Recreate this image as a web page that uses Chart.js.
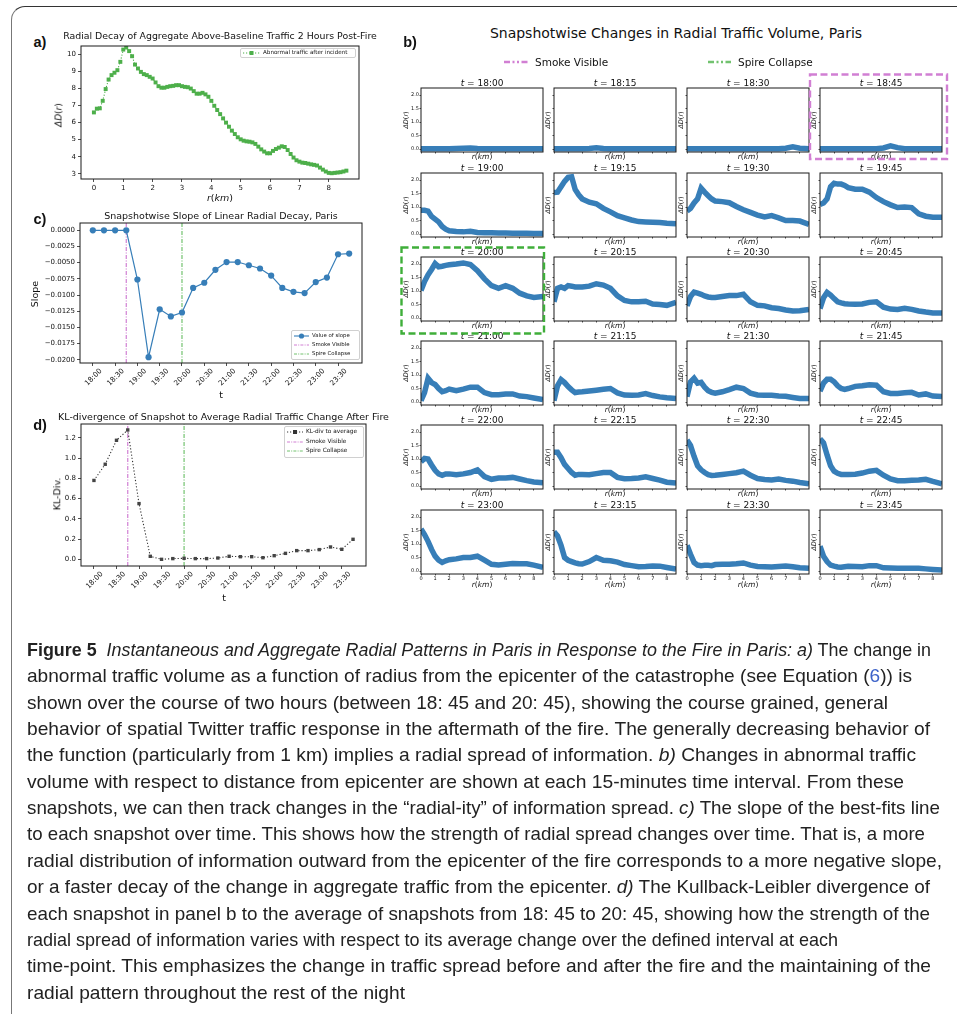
<!DOCTYPE html>
<html lang="en">
<head>
<meta charset="UTF-8">
<meta name="viewport" content="width=device-width, initial-scale=1.0">
<title>Figure 5 - Radial Patterns in Paris</title>
<script src="https://cdn.jsdelivr.net/npm/chart.js"></script>
<style>
  html, body { margin: 0; padding: 0; background: #fff; }
  #fig { position: relative; width: 957px; height: 1014px; overflow: hidden; font-family: "DejaVu Sans", sans-serif; color: #111; }
  .frame { position: absolute; left: 11px; top: 6px; width: 1000px; height: 1100px; border-left: 1.4px solid #777; border-top: 1.4px solid #333; border-top-left-radius: 14px; }
  .cbox { position: absolute; }
  .cbox canvas { display: block; }
  .txt { position: absolute; white-space: nowrap; line-height: 1; transform: translate(-50%, -50%); }
  .txt.left { transform: translate(0, -50%); }
  .txt.rot { transform: translate(-50%, -50%) rotate(-90deg); }
  .leg { position: absolute; box-sizing: border-box; background: rgba(255,255,255,0.85); border: 0.8px solid #d0d0d0; border-radius: 2px; display: flex; flex-direction: column; justify-content: space-evenly; padding: 0 2px; }
  .leg .row { display: flex; align-items: center; white-space: nowrap; line-height: 1; }
  .leg svg { flex: none; margin-right: 3px; }
  .cap { position: absolute; left: 27px; white-space: nowrap; font-family: "Liberation Sans Narrow", "Liberation Sans", sans-serif; font-size: 19px; line-height: 26px; color: #222; transform-origin: 0 50%; }
  .cap .lnk { color: #3d63c9; }
  #over { position: absolute; left: 0; top: 0; pointer-events: none; }
</style>
</head>
<body>
<div id="fig"><div class="frame"></div></div>
<script>
// 15-minute snapshot times
const TIMES = ['18:00', '18:15', '18:30', '18:45', '19:00', '19:15', '19:30', '19:45',
               '20:00', '20:15', '20:30', '20:45', '21:00', '21:15', '21:30', '21:45',
               '22:00', '22:15', '22:30', '22:45', '23:00', '23:15', '23:30', '23:45'];
const SMOKE_AT = '18:45';
const SPIRE_AT = '20:00';

// a) aggregate above-baseline traffic vs radius
const A_R = [0, 0.1, 0.2, 0.3, 0.4, 0.5, 0.6, 0.7, 0.8, 0.9,
             1, 1.1, 1.2, 1.3, 1.4, 1.5, 1.6, 1.7, 1.8, 1.9,
             2, 2.1, 2.2, 2.3, 2.4, 2.5, 2.6, 2.7, 2.8, 2.9,
             3, 3.1, 3.2, 3.3, 3.4, 3.5, 3.6, 3.7, 3.8, 3.9,
             4, 4.1, 4.2, 4.3, 4.4, 4.5, 4.6, 4.7, 4.8, 4.9,
             5, 5.1, 5.2, 5.3, 5.4, 5.5, 5.6, 5.7, 5.8, 5.9,
             6, 6.1, 6.2, 6.3, 6.4, 6.5, 6.6, 6.7, 6.8, 6.9,
             7, 7.1, 7.2, 7.3, 7.4, 7.5, 7.6, 7.7, 7.8, 7.9,
             8, 8.1, 8.2, 8.3, 8.4, 8.5, 8.6];
const A_DELTA = [6.6, 6.82, 6.84, 7.28, 7.97, 8.53, 8.79, 8.93, 9.08, 9.57,
                 10.29, 10.41, 10.2, 9.9, 9.41, 9.18, 8.98, 8.85, 8.79, 8.69,
                 8.59, 8.36, 8.14, 8.05, 8.05, 8.1, 8.14, 8.16, 8.2, 8.2,
                 8.14, 8.1, 8.08, 8.0, 7.85, 7.7, 7.7, 7.75, 7.66, 7.52,
                 7.28, 6.99, 6.74, 6.5, 6.25, 6.0, 5.76, 5.53, 5.33, 5.14,
                 5.02, 4.94, 4.9, 4.88, 4.84, 4.75, 4.59, 4.43, 4.3, 4.2,
                 4.2, 4.34, 4.45, 4.53, 4.61, 4.57, 4.39, 4.16, 3.95, 3.79,
                 3.71, 3.65, 3.63, 3.59, 3.55, 3.52, 3.48, 3.36, 3.24, 3.13,
                 3.05, 3.03, 3.05, 3.07, 3.09, 3.13, 3.18];

// c) slope of the linear fit per snapshot
const SLOPE = [0, 0, 0, 0, -0.0076, -0.0196, -0.0122, -0.0133, -0.0127, -0.0089, -0.0081, -0.0061,
               -0.0049, -0.0049, -0.0054, -0.0059, -0.0070, -0.0089, -0.0095, -0.0097, -0.0080, -0.0073,
               -0.0037, -0.0036];

// d) KL divergence of each snapshot to the average
const KL_DIV = [0.78, 0.94, 1.177, 1.279, 0.551, 0.03, 0.0, 0.007, 0.01, 0.007, 0.007, 0.013,
                0.03, 0.026, 0.026, 0.016, 0.036, 0.059, 0.086, 0.086, 0.096, 0.122, 0.099, 0.198];

// b) radial profiles, one per snapshot
const R_KM = [0, 0.25, 0.5, 0.75, 1, 1.25, 1.5, 1.75, 2, 2.5, 3, 3.5, 4, 4.5, 5, 5.5, 6, 6.5, 7, 7.5, 8, 8.65];
const SNAP_1800 = [0.01, 0.01, 0.01, 0.01, 0.01, 0.01, 0.01, 0.01, 0.01, 0.02, 0.03, 0.04, 0.02, 0.01, 0.01, 0.01, 0.01, 0.01, 0.01, 0.01, 0.01, 0.01];
const SNAP_1815 = [0.01, 0.01, 0.01, 0.01, 0.01, 0.01, 0.01, 0.01, 0.01, 0.02, 0.05, 0.02, 0.01, 0.01, 0.01, 0.01, 0.01, 0.01, 0.01, 0.01, 0.01, 0.01];
const SNAP_1830 = [0.01, 0.01, 0.01, 0.01, 0.01, 0.01, 0.01, 0.01, 0.01, 0.01, 0.01, 0.01, 0.01, 0.01, 0.01, 0.01, 0.01, 0.01, 0.03, 0.08, 0.03, 0.01];
const SNAP_1845 = [0.01, 0.01, 0.01, 0.01, 0.01, 0.01, 0.01, 0.01, 0.01, 0.01, 0.01, 0.01, 0.01, 0.04, 0.12, 0.05, 0.01, 0.01, 0.01, 0.01, 0.01, 0.01];
const SNAP_1900 = [0.88, 0.88, 0.85, 0.65, 0.55, 0.45, 0.28, 0.18, 0.12, 0.09, 0.08, 0.1, 0.06, 0.05, 0.05, 0.04, 0.04, 0.03, 0.03, 0.03, 0.02, 0.02];
const SNAP_1915 = [1.54, 1.55, 1.75, 1.95, 2.1, 2.12, 1.65, 1.45, 1.3, 1.18, 1.12, 0.95, 0.82, 0.68, 0.6, 0.52, 0.46, 0.45, 0.44, 0.43, 0.4, 0.38];
const SNAP_1930 = [0.85, 0.95, 1.15, 1.3, 1.7, 1.55, 1.42, 1.3, 1.22, 1.2, 1.16, 1.02, 0.9, 0.8, 0.7, 0.63, 0.68, 0.6, 0.5, 0.5, 0.48, 0.36];
const SNAP_1945 = [1.1, 1.15, 1.3, 1.75, 1.88, 1.85, 1.85, 1.8, 1.72, 1.66, 1.66, 1.55, 1.35, 1.2, 1.08, 0.98, 1.0, 0.98, 0.75, 0.66, 0.62, 0.62];
const SNAP_2000 = [1.02, 1.35, 1.6, 1.8, 2.02, 1.9, 1.92, 1.95, 1.97, 2.0, 2.04, 1.98, 1.75, 1.45, 1.2, 1.1, 1.2, 1.1, 0.92, 0.82, 0.76, 0.8];
const SNAP_2015 = [0.6, 1.1, 1.15, 1.1, 1.2, 1.18, 1.15, 1.15, 1.15, 1.18, 1.27, 1.22, 1.1, 0.82, 0.65, 0.6, 0.6, 0.62, 0.52, 0.5, 0.47, 0.58];
const SNAP_2030 = [0.45, 0.8, 0.96, 0.92, 0.88, 0.82, 0.78, 0.76, 0.76, 0.8, 0.83, 0.83, 0.88, 0.6, 0.47, 0.45, 0.38, 0.35, 0.3, 0.26, 0.27, 0.32];
const SNAP_2045 = [0.35, 0.75, 0.95, 0.85, 0.72, 0.6, 0.56, 0.53, 0.52, 0.51, 0.52, 0.58, 0.6, 0.4, 0.33, 0.32, 0.36, 0.32, 0.26, 0.22, 0.19, 0.19];
const SNAP_2100 = [0.05, 0.35, 0.88, 0.72, 0.65, 0.5, 0.38, 0.42, 0.48, 0.42, 0.48, 0.55, 0.55, 0.35, 0.27, 0.27, 0.3, 0.3, 0.22, 0.2, 0.15, 0.09];
const SNAP_2115 = [0.05, 0.6, 0.83, 0.72, 0.57, 0.45, 0.35, 0.37, 0.38, 0.41, 0.44, 0.47, 0.5, 0.34, 0.26, 0.25, 0.26, 0.31, 0.24, 0.19, 0.16, 0.13];
const SNAP_2130 = [0.2, 0.75, 0.88, 0.7, 0.73, 0.55, 0.42, 0.36, 0.33, 0.38, 0.46, 0.55, 0.5, 0.33, 0.26, 0.25, 0.25, 0.22, 0.21, 0.17, 0.13, 0.13];
const SNAP_2145 = [0.4, 0.7, 0.84, 0.84, 0.75, 0.6, 0.5, 0.47, 0.5, 0.58, 0.6, 0.64, 0.62, 0.38, 0.32, 0.32, 0.34, 0.36, 0.26, 0.3, 0.22, 0.2];
const SNAP_2200 = [0.9, 1.02, 1.0, 0.78, 0.58, 0.45, 0.4, 0.45, 0.45, 0.42, 0.45, 0.5, 0.6, 0.35, 0.25, 0.3, 0.3, 0.32, 0.26, 0.2, 0.15, 0.12];
const SNAP_2215 = [1.25, 1.25, 1.05, 0.8, 0.65, 0.5, 0.4, 0.43, 0.43, 0.42, 0.46, 0.5, 0.5, 0.32, 0.27, 0.28, 0.3, 0.34, 0.28, 0.22, 0.14, 0.11];
const SNAP_2230 = [1.7, 1.5, 1.1, 0.75, 0.6, 0.5, 0.42, 0.39, 0.4, 0.43, 0.46, 0.49, 0.55, 0.4, 0.28, 0.24, 0.22, 0.26, 0.21, 0.18, 0.13, 0.08];
const SNAP_2245 = [1.75, 1.6, 1.15, 0.75, 0.55, 0.47, 0.43, 0.43, 0.43, 0.44, 0.48, 0.55, 0.58, 0.4, 0.26, 0.2, 0.2, 0.21, 0.22, 0.25, 0.17, 0.08];
const SNAP_2300 = [1.56, 1.35, 1.1, 0.8, 0.55, 0.4, 0.32, 0.38, 0.42, 0.45, 0.5, 0.5, 0.55, 0.4, 0.25, 0.22, 0.25, 0.28, 0.27, 0.27, 0.22, 0.14];
const SNAP_2315 = [1.45, 1.3, 0.95, 0.5, 0.4, 0.35, 0.3, 0.27, 0.26, 0.35, 0.5, 0.4, 0.38, 0.33, 0.24, 0.2, 0.16, 0.17, 0.19, 0.18, 0.13, 0.07];
const SNAP_2330 = [0.95, 0.62, 0.32, 0.22, 0.2, 0.21, 0.21, 0.2, 0.24, 0.25, 0.25, 0.27, 0.3, 0.22, 0.17, 0.16, 0.15, 0.17, 0.19, 0.16, 0.12, 0.1];
const SNAP_2345 = [0.92, 0.55, 0.35, 0.22, 0.18, 0.15, 0.14, 0.16, 0.18, 0.17, 0.16, 0.2, 0.2, 0.12, 0.11, 0.1, 0.1, 0.1, 0.1, 0.08, 0.06, 0.04];
const SNAPSHOTS = [SNAP_1800, SNAP_1815, SNAP_1830, SNAP_1845, SNAP_1900, SNAP_1915, SNAP_1930, SNAP_1945,
                   SNAP_2000, SNAP_2015, SNAP_2030, SNAP_2045, SNAP_2100, SNAP_2115, SNAP_2130, SNAP_2145,
                   SNAP_2200, SNAP_2215, SNAP_2230, SNAP_2245, SNAP_2300, SNAP_2315, SNAP_2330, SNAP_2345];

const BLUE = '#377eb8', GREEN = '#4daf4a', SMOKE = '#d17fd3', SPIRE = '#72c26f', KL = '#333333';
const fig = document.getElementById('fig');

function put(html, x, y, css, cls) {
  const d = document.createElement('div');
  d.className = 'txt' + (cls ? ' ' + cls : '');
  d.innerHTML = html;
  d.style.cssText = `left:${x}px;top:${y}px;` + (css || '');
  fig.appendChild(d);
  return d;
}

// box around the plot area, like matplotlib spines
Chart.register({
  id: 'frame',
  defaults: { color: '#1a1a1a', width: 1 },
  afterDatasetsDraw(chart, args, o) {
    const a = chart.chartArea, ctx = chart.ctx;
    ctx.save();
    ctx.strokeStyle = o.color;
    ctx.lineWidth = o.width;
    ctx.strokeRect(a.left, a.top, a.right - a.left, a.bottom - a.top);
    ctx.restore();
  }
});

function axis(o) {
  return {
    type: 'linear', position: o.pos, min: o.min, max: o.max, bounds: 'data',
    afterBuildTicks: s => { s.ticks = o.ticks.map(v => ({ value: v })); },
    grid: { drawOnChartArea: false, drawTicks: true, tickLength: o.tick, tickColor: '#222', tickWidth: 0.8 },
    border: { display: false },
    ticks: {
      display: o.show !== false, autoSkip: false, includeBounds: false,
      maxRotation: o.rot || 0, minRotation: o.rot || 0,
      labelOffset: o.shift || 0, padding: o.gap === undefined ? 2 : o.gap,
      color: '#111', font: { family: 'DejaVu Sans', size: o.font },
      callback: o.fmt || (v => v)
    }
  };
}

// plot area sits exactly at rect = [left, top, width, height]; pad = [l, t, r, b] room for axes
function chartAt(rect, pad, datasets, scales) {
  const [l, t, w, h] = rect;
  const box = document.createElement('div');
  box.className = 'cbox';
  box.style.left = (l - pad[0]) + 'px';
  box.style.top = (t - pad[1]) + 'px';
  const cv = document.createElement('canvas');
  cv.width = w + pad[0] + pad[2];
  cv.height = h + pad[1] + pad[3];
  box.appendChild(cv);
  fig.appendChild(box);
  scales.x.afterFit = s => { s.height = pad[3]; };
  scales.y.afterFit = s => { s.width = pad[0]; };
  return new Chart(cv, {
    type: 'line',
    data: { datasets },
    options: {
      responsive: false, animation: false, events: [],
      layout: { padding: { left: 0, top: pad[1], right: pad[2], bottom: 0 } },
      plugins: { legend: { display: false }, tooltip: { enabled: false } },
      scales
    }
  });
}

function vline(at, color, yMin, yMax) {
  const i = TIMES.indexOf(at);
  return { data: [{ x: i, y: yMin }, { x: i, y: yMax }], borderColor: color, borderWidth: 1.2,
           borderDash: [4, 1.5, 1, 1.5], pointRadius: 0 };
}

function sample(it, w) {
  const dash = it.dash ? ` stroke-dasharray="${it.dash}"` : '';
  let mark = '';
  if (it.marker === 'rect') mark = `<rect x="${w / 2 - 2}" y="2" width="4" height="4" fill="${it.color}"/>`;
  if (it.marker === 'circle') mark = `<circle cx="${w / 2}" cy="4" r="2.6" fill="${it.color}"/>`;
  return `<svg width="${w}" height="8"><line x1="0" y1="4" x2="${w}" y2="4" stroke="${it.color}" stroke-width="${it.lw || 1}"${dash}/>${mark}</svg>`;
}

function legend(x, y, w, h, size, sw, items) {
  const box = document.createElement('div');
  box.className = 'leg';
  box.style.cssText = `left:${x}px;top:${y}px;width:${w}px;height:${h}px;font-size:${size}px;`;
  box.innerHTML = items.map(it => `<div class="row">${sample(it, sw)}<span>${it.label}</span></div>`).join('');
  fig.appendChild(box);
}

const idx = TIMES.map((t, i) => i);
const EVERY_HALF_HOUR = idx.filter(i => i % 2 === 0 && i < 23);

// ---------- panel a ----------
chartAt([81, 46, 278, 133], [28, 10, 6, 14], [{
  data: A_R.map((r, i) => ({ x: r, y: A_DELTA[i] })),
  borderColor: GREEN, borderWidth: 1.1, borderDash: [1.2, 1.8],
  pointStyle: 'rect', pointRadius: 2.8, pointBackgroundColor: GREEN, pointBorderWidth: 0
}], {
  x: axis({ pos: 'bottom', min: -0.44, max: 9.03, ticks: [0, 1, 2, 3, 4, 5, 6, 7, 8], tick: 3, font: 7 }),
  y: axis({ pos: 'left', min: 2.69, max: 10.5, ticks: [3, 4, 5, 6, 7, 8, 9, 10], tick: 3, font: 7 })
});
put('a)', 40, 42, 'font:bold 14.5px "Liberation Sans",sans-serif;');
put('Radial Decay of Aggregate Above-Baseline Traffic 2 Hours Post-Fire', 220, 36, 'font-size:9.4px;');
put('<i>r</i>(<i>km</i>)', 220, 197.5, 'font-size:9.5px;');
put('<i>ΔD</i>(<i>r</i>)', 59, 115, 'font-size:9px;', 'rot');
legend(240, 48, 116, 9.5, 5.6, 17, [
  { label: 'Abnormal traffic after incident', color: GREEN, dash: '1.2 1.8', lw: 1.1, marker: 'rect' }
]);

// ---------- panel c ----------
const C_MIN = -0.0205, C_MAX = 0.00113;
chartAt([80, 223, 282, 140], [46, 10, 8, 34], [
  { data: SLOPE.map((v, i) => ({ x: i, y: v })), borderColor: BLUE, borderWidth: 1.2,
    pointRadius: 3.1, pointBackgroundColor: BLUE, pointBorderWidth: 0 },
  vline(SMOKE_AT, SMOKE, C_MIN, C_MAX),
  vline(SPIRE_AT, SPIRE, C_MIN, C_MAX)
], {
  x: axis({ pos: 'bottom', min: -1.15, max: 24.15, ticks: EVERY_HALF_HOUR, tick: 3, font: 7.2,
            rot: 45, shift: 8, gap: 1, fmt: v => TIMES[v] }),
  y: axis({ pos: 'left', min: C_MIN, max: C_MAX,
            ticks: [0, -0.0025, -0.005, -0.0075, -0.01, -0.0125, -0.015, -0.0175, -0.02], tick: 3, font: 7,
            fmt: v => (Math.abs(v) < 1e-9 ? '0.0000' : '\u2212' + Math.abs(v).toFixed(4)) })
});
put('c)', 40, 219, 'font:bold 14.5px "Liberation Sans",sans-serif;');
put('Snapshotwise Slope of Linear Radial Decay, Paris', 221, 215.5, 'font-size:9.5px;');
put('Slope', 35, 294, 'font-size:9.5px;', 'rot');
put('t', 221, 395, 'font-size:9.5px;');
legend(291, 330, 69, 29.5, 5.4, 15, [
  { label: 'Value of slope', color: BLUE, lw: 1.1, marker: 'circle' },
  { label: 'Smoke Visible', color: SMOKE, dash: '3 1.2 1 1.2', lw: 1 },
  { label: 'Spire Collapse', color: SPIRE, dash: '3 1.2 1 1.2', lw: 1 }
]);

// ---------- panel d ----------
const D_MIN = -0.066, D_MAX = 1.338;
chartAt([81, 424, 285, 142], [30, 10, 8, 34], [
  { data: KL_DIV.map((v, i) => ({ x: i, y: v })), borderColor: KL, borderWidth: 1.1, borderDash: [1.2, 2],
    pointStyle: 'rect', pointRadius: 2.4, pointBackgroundColor: '#444', pointBorderWidth: 0 },
  vline(SMOKE_AT, SMOKE, D_MIN, D_MAX),
  vline(SPIRE_AT, SPIRE, D_MIN, D_MAX)
], {
  x: axis({ pos: 'bottom', min: -1.15, max: 24.15, ticks: EVERY_HALF_HOUR, tick: 3, font: 7.2,
            rot: 45, shift: 8, gap: 1, fmt: v => TIMES[v] }),
  y: axis({ pos: 'left', min: D_MIN, max: D_MAX, ticks: [0, 0.2, 0.4, 0.6, 0.8, 1.0, 1.2], tick: 3, font: 7,
            fmt: v => v.toFixed(1) })
});
put('d)', 40, 425, 'font:bold 14.5px "Liberation Sans",sans-serif;');
put('KL-divergence of Snapshot to Average Radial Traffic Change After Fire', 223.5, 416.5, 'font-size:9.5px;');
put('KL-Div.', 56.5, 494, 'font-size:9.5px;', 'rot');
put('t', 224, 597.5, 'font-size:9.5px;');
legend(284, 426, 80, 31.5, 5.8, 16, [
  { label: 'KL-div to average', color: KL, dash: '1.2 1.8', lw: 1, marker: 'rect' },
  { label: 'Smoke Visible', color: SMOKE, dash: '3 1.2 1 1.2', lw: 1 },
  { label: 'Spire Collapse', color: SPIRE, dash: '3 1.2 1 1.2', lw: 1 }
]);

// ---------- panel b ----------
const COL_L = [421, 554, 687, 820];
const ROW_T = [88, 173, 257, 341, 425, 510];
const SW = 122, SH = 64;
SNAPSHOTS.forEach((snap, i) => {
  const row = Math.floor(i / 4), col = i % 4;
  const L = COL_L[col], T = ROW_T[row];
  chartAt([L, T, SW, SH], [14, 6, 4, 10], [{
    data: R_KM.map((r, k) => ({ x: r, y: snap[k] })),
    borderColor: BLUE, borderWidth: 5.5, pointRadius: 0, clip: 0
  }], {
    x: axis({ pos: 'bottom', min: 0, max: 8.65, ticks: [0, 1, 2, 3, 4, 5, 6, 7, 8], tick: 1.5, font: 5,
              gap: 0.5, show: row === 5 }),
    y: axis({ pos: 'left', min: -0.11, max: 2.26, ticks: [0, 0.5, 1, 1.5, 2], tick: 1.5, font: 5,
              gap: 0.5, show: col === 0, fmt: v => v.toFixed(1) })
  });
  put(`<i>t</i> = ${TIMES[i]}`, L + SW / 2, T - 5.5, 'font-size:9px;');
  put('<i>ΔD</i>(<i>r</i>)', col === 0 ? L - 15 : L - 6, T + SH / 2, 'font-size:6.5px;', 'rot');
  put('<i>r</i>(<i>km</i>)', L + SW / 2, row === 5 ? T + SH + 10.5 : T + SH + 4.5, 'font-size:7.5px;');
});
put('b)', 410, 42, 'font:bold 14.5px "Liberation Sans",sans-serif;');
put('Snapshotwise Changes in Radial Traffic Volume, Paris', 676, 33, 'font-size:14px;');
put('Smoke Visible', 535, 62, 'font-size:10.5px;', 'left');
put('Spire Collapse', 738, 62, 'font-size:10.5px;', 'left');

// overlay: legend samples and highlight boxes of panel b
const NS = 'http://www.w3.org/2000/svg';
const svg = document.createElementNS(NS, 'svg');
svg.setAttribute('id', 'over');
svg.setAttribute('width', 957);
svg.setAttribute('height', 1014);
svg.innerHTML =
  `<line x1="504" y1="62" x2="528" y2="62" stroke="${SMOKE}" stroke-width="2.6" stroke-dasharray="6 2.5 2 2.5 2 2.5"/>` +
  `<line x1="708" y1="62" x2="731" y2="62" stroke="${SPIRE}" stroke-width="2.6" stroke-dasharray="6 2.5 2 2.5 2 2.5"/>` +
  `<rect x="810" y="74.5" width="137" height="84.5" fill="none" stroke="${SMOKE}" stroke-width="2.4" stroke-dasharray="7 3.5"/>` +
  `<rect x="401.5" y="247.5" width="142.5" height="86" fill="none" stroke="#3fae3a" stroke-width="2.4" stroke-dasharray="7 3.5"/>`;
fig.appendChild(svg);

// ---------- caption ----------
const CAPTION = [
  '<b>Figure 5</b>&nbsp; <i>Instantaneous and Aggregate Radial Patterns in Paris in Response to the Fire in Paris: a)</i> The change in',
  'abnormal traffic volume as a function of radius from the epicenter of the catastrophe (see Equation (<span class="lnk">6</span>)) is',
  'shown over the course of two hours (between 18: 45 and 20: 45), showing the course grained, general',
  'behavior of spatial Twitter traffic response in the aftermath of the fire. The generally decreasing behavior of',
  'the function (particularly from 1 km) implies a radial spread of information. <i>b)</i> Changes in abnormal traffic',
  'volume with respect to distance from epicenter are shown at each 15-minutes time interval. From these',
  'snapshots, we can then track changes in the \u201cradial-ity\u201d of information spread. <i>c)</i> The slope of the best-fits line',
  'to each snapshot over time. This shows how the strength of radial spread changes over time. That is, a more',
  'radial distribution of information outward from the epicenter of the fire corresponds to a more negative slope,',
  'or a faster decay of the change in aggregate traffic from the epicenter. <i>d)</i> The Kullback-Leibler divergence of',
  'each snapshot in panel b to the average of snapshots from 18: 45 to 20: 45, showing how the strength of the',
  'radial spread of information varies with respect to its average change over the defined interval at each',
  'time-point. This emphasizes the change in traffic spread before and after the fire and the maintaining of the',
  'radial pattern throughout the rest of the night'
];
const CAP_RIGHT = [931, 912, 888, 930, 916, 904, 940, 925, 942, 930, 930, 838, 931, 405];
const capLines = CAPTION.map((html, i) => {
  const d = document.createElement('div');
  d.className = 'cap';
  d.style.top = (650 + 26.35 * i - 13) + 'px';
  d.innerHTML = html;
  fig.appendChild(d);
  return d;
});
function fitCaption() {
  capLines.forEach((d, i) => {
    d.style.transform = 'none';
    const w = d.getBoundingClientRect().width;
    d.style.transform = `scaleX(${(CAP_RIGHT[i] - 27) / w})`;
  });
}
fitCaption();
if (document.fonts) document.fonts.ready.then(fitCaption);
</script>
</body>
</html>
